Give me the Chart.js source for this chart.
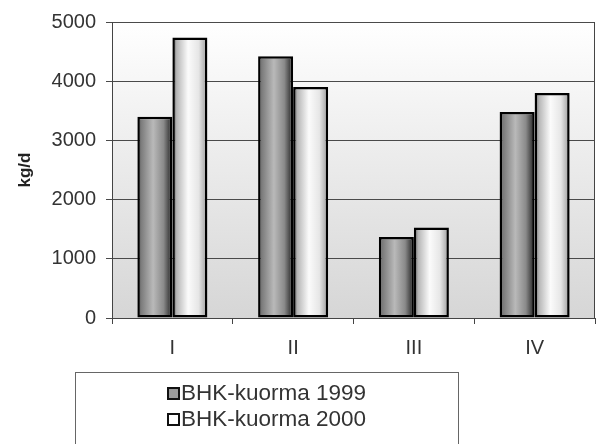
<!DOCTYPE html>
<html>
<head>
<meta charset="utf-8">
<script src="https://cdn.jsdelivr.net/npm/chart.js@4.4.1/dist/chart.umd.min.js"></script>
<style>
  html, body { margin: 0; padding: 0; background: #ffffff; }
  #wrap { width: 599px; height: 444px; }
</style>
</head>
<body>
<div id="wrap"><canvas id="bhkChart" width="599" height="444"></canvas></div>
<script>
// BHK load per area, kg/d
const areas = ["I", "II", "III", "IV"];
const kuorma1999 = [3400, 4420, 1370, 3480];
const kuorma2000 = [4740, 3900, 1530, 3800];
const yTicks = [0, 1000, 2000, 3000, 4000, 5000];
const seriesNames = ["BHK-kuorma 1999", "BHK-kuorma 2000"];

const CAT_PCT = 0.58;
const FONT = "'Liberation Sans', Arial, sans-serif";

// cylinder-like shading across each bar
const shade1999 = [[0, "#3a3a3a"], [0.1, "#7a7a7a"], [0.45, "#b9b9b9"], [0.75, "#8a8a8a"], [1, "#1e1e1e"]];
const shade2000 = [[0, "#4a4a4a"], [0.12, "#b5b5b5"], [0.45, "#fbfbfb"], [0.75, "#e6e6e6"], [1, "#9a9a9a"]];

function barShade(stops, plain) {
  return function (c) {
    if (c.dataIndex === undefined || !c.chart.chartArea) return plain;
    const xs = c.chart.scales.x;
    const center = xs.getPixelForValue(c.dataIndex);
    const w = (xs.width / areas.length) * CAT_PCT / 2;
    const left = c.datasetIndex === 0 ? center - w : center;
    const g = c.chart.ctx.createLinearGradient(left, 0, left + w, 0);
    stops.forEach((s) => g.addColorStop(s[0], s[1]));
    return g;
  };
}

// plot background gradient + right frame line
const plotFrame = {
  id: "plotFrame",
  beforeDraw(chart) {
    const { ctx, chartArea: a } = chart;
    const g = ctx.createLinearGradient(0, a.top, 0, a.bottom);
    g.addColorStop(0, "#ffffff");
    g.addColorStop(0.45, "#ececec");
    g.addColorStop(1, "#d6d6d6");
    ctx.save();
    ctx.fillStyle = g;
    ctx.fillRect(a.left, a.top, a.right - a.left, a.bottom - a.top);
    ctx.restore();
  },
  afterDraw(chart) {
    const { ctx, chartArea: a } = chart;
    ctx.save();
    ctx.strokeStyle = "#444";
    ctx.lineWidth = 1;
    ctx.beginPath();
    ctx.moveTo(a.right - 0.5, a.top);
    ctx.lineTo(a.right - 0.5, a.bottom);
    ctx.stroke();
    ctx.restore();
  },
};

// boxed legend under the chart
const boxLegend = {
  id: "boxLegend",
  afterDraw(chart) {
    const ctx = chart.ctx;
    ctx.save();
    ctx.strokeStyle = "#666";
    ctx.lineWidth = 1;
    ctx.strokeRect(75.5, 372.5, 383, 80);
    ctx.font = "22.5px " + FONT;
    ctx.textBaseline = "middle";
    const fills = ["#9a9a9a", "#ffffff"];
    const rows = [393, 419];
    chart.data.datasets.forEach((ds, i) => {
      ctx.fillStyle = fills[i];
      ctx.fillRect(168, rows[i] - 5, 11, 11);
      ctx.strokeStyle = "#111";
      ctx.lineWidth = 2;
      ctx.strokeRect(168, rows[i] - 5, 11, 11);
      ctx.fillStyle = "#333";
      ctx.fillText(ds.label, 181, rows[i] + 1);
    });
    ctx.restore();
  },
};

new Chart(document.getElementById("bhkChart"), {
  type: "bar",
  data: {
    labels: areas,
    datasets: [
      {
        label: seriesNames[0],
        data: kuorma1999,
        backgroundColor: barShade(shade1999, "#9a9a9a"),
        borderColor: "#000",
        borderWidth: 2.5,
        borderSkipped: false,
      },
      {
        label: seriesNames[1],
        data: kuorma2000,
        backgroundColor: barShade(shade2000, "#ffffff"),
        borderColor: "#000",
        borderWidth: 2.5,
        borderSkipped: false,
      },
    ],
  },
  options: {
    responsive: false,
    animation: false,
    layout: { padding: { top: 22, right: 4, bottom: 81, left: 15 } },
    datasets: { bar: { categoryPercentage: CAT_PCT, barPercentage: 1 } },
    scales: {
      x: {
        afterFit: (s) => { s.height = 45; },
        grid: { offset: true, drawOnChartArea: false, tickLength: 6, color: "#444" },
        border: { color: "#444", width: 1 },
        ticks: { color: "#333", font: { family: FONT, size: 20 }, padding: 12 },
      },
      y: {
        min: 0,
        max: 5000,
        afterFit: (s) => { s.width = 97; },
        afterBuildTicks: (s) => { s.ticks = yTicks.map((v) => ({ value: v })); },
        grid: { color: "#4a4a4a", tickLength: 6 },
        border: { color: "#444", width: 1 },
        ticks: {
          color: "#333",
          font: { family: FONT, size: 20 },
          padding: 10,
          callback: (v) => String(v),
        },
        title: {
          display: true,
          text: "kg/d",
          color: "#222",
          font: { family: FONT, size: 17, weight: "bold" },
          padding: { top: 0, bottom: 0 },
        },
      },
    },
    plugins: {
      legend: { display: false },
      tooltip: { enabled: false },
    },
  },
  plugins: [plotFrame, boxLegend],
});
</script>
</body>
</html>
